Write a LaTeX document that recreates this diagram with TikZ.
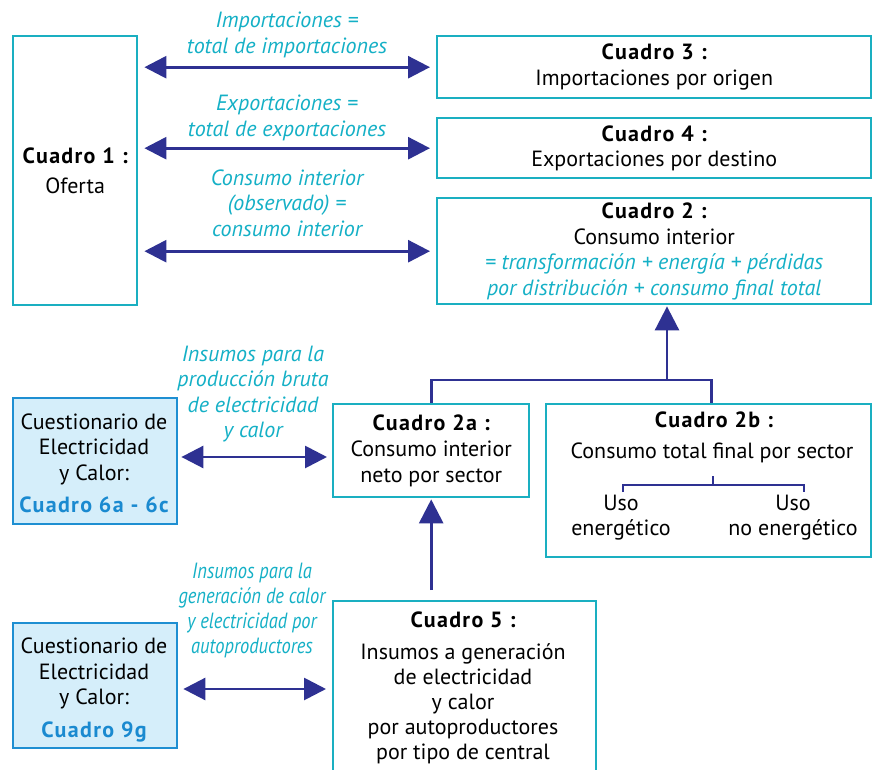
\documentclass[tikz,border=0pt]{standalone}
\usepackage{fontspec}
\setmainfont{PT Sans}
\newfontfamily\narrowfont[FakeStretch=0.84]{PT Sans}
\newfontfamily\titlefont[LetterSpace=6]{PT Sans}
\usetikzlibrary{arrows.meta}
\definecolor{boxc}{HTML}{1AAFC1}
\definecolor{arrc}{HTML}{2E3192}
\definecolor{labc}{HTML}{14B0C6}
\definecolor{qfill}{HTML}{D5EEFA}
\definecolor{qline}{HTML}{1E8FD2}
\definecolor{qtext}{HTML}{1A8AD0}
\newcommand{\ttlf}[1]{{\titlefont\bfseries #1}}
\tikzset{
  box/.style={draw=boxc, line width=2.4pt, fill=white, inner sep=0pt, align=center,
    font=\fontsize{22}{25.5}\selectfont},
  qbox/.style={draw=qline, line width=2.4pt, fill=qfill, inner sep=0pt},
  txt/.style={align=center, inner sep=0pt, font=\fontsize{22}{25}\selectfont},
  qtxt/.style={align=center, inner sep=0pt, font=\fontsize{22}{25.5}\selectfont},
  ttl/.style={align=center, inner sep=0pt, font=\fontsize{22}{25.5}\selectfont\titlefont\bfseries},
  lab/.style={text=labc, align=center, inner sep=0pt, font=\fontsize{22}{25.5}\selectfont\itshape},
  nlab/.style={text=labc, align=center, inner sep=0pt, font=\fontsize{22}{25}\selectfont\narrowfont\itshape},
  dbl/.style={draw=arrc, line width=2.8pt,
    {Triangle[length=22pt,width=22pt]}-{Triangle[length=22pt,width=22pt]}},
  uparr/.style={draw=arrc, line width=2.8pt, -{Triangle[length=24pt,width=24pt]}},
  tree/.style={draw=arrc, line width=2.8pt},
  smalltree/.style={draw=arrc, line width=2pt},
}
\begin{document}
\begin{tikzpicture}[x=1pt,y=-1pt]
\useasboundingbox[fill=white] (0,0) rectangle (873,770);
\begin{scope}
\clip (0,0) rectangle (873,770);
% top boxes
\node[box, anchor=north west, minimum width=124pt, minimum height=269pt] (c1) at (12,35)
  {\ttlf{Cuadro 1 :}\\[5pt]Oferta};
\node[box, anchor=north west, minimum width=434pt, minimum height=62pt] (c3) at (436,35)
  {\ttlf{Cuadro 3 :}\\Importaciones por origen};
\node[box, anchor=north west, minimum width=434pt, minimum height=60pt] (c4) at (436,117)
  {\ttlf{Cuadro 4 :}\\Exportaciones por destino};
\node[box, anchor=north west, minimum width=434pt, minimum height=106pt] (c2) at (436,197)
  {\ttlf{Cuadro 2 :}\\Consumo interior\\
   \textcolor{labc}{\itshape = transformación + energía + pérdidas}\\
   \textcolor{labc}{\itshape por distribución + consumo final total}};
% arrows top
\draw[dbl] ([xshift=6pt]c1.east |- c3.west) -- ([xshift=-6pt]c3.west);
\draw[dbl] ([xshift=6pt]c1.east |- c4.west) -- ([xshift=-6pt]c4.west);
\draw[dbl] ([xshift=6pt]c1.east |- c2.west) -- ([xshift=-6pt]c2.west);
\node[lab] (l1) at (287,35) {Importaciones =\\total de importaciones};
\node[lab] (l2) at (287,118) {Exportaciones =\\total de exportaciones};
\node[lab] (l3) at (287,203) {Consumo interior\\(observado) =\\consumo interior};
% middle
\node[box, anchor=north west, minimum width=196pt, minimum height=93pt] (c2a) at (332,403)
  {\ttlf{Cuadro 2a :}\\[1pt]Consumo interior\\neto por sector};
\node[box, anchor=north west, minimum width=325pt, minimum height=153pt] (c2b) at (545,403) {};
\node[ttl] (t2b) at (714,420) {Cuadro 2b :};
\node[txt] (s2b) at (712,453) {Consumo total final por sector};
\node[txt] (u1) at (621,518) {Uso\\energético};
\node[txt] (u2) at (793,518) {Uso\\no energético};
\coordinate (st) at (713,476);
\coordinate (sb) at (713,485);
\coordinate (tl) at (623,492);
\coordinate (tr) at (804,492);
\draw[smalltree] (st) -- (sb);
\draw[smalltree] (tl) -- (tl |- sb) -- (tr |- sb) -- (tr);
\coordinate (j) at (667,380);
\draw[tree] (c2a.north) |- (j) -| ([xshift=3pt]c2b.north);
\draw[uparr] (j) -- ([yshift=-1pt]c2.south -| j);
\node[qbox, anchor=north west, minimum width=164pt, minimum height=126pt] (q1) at (12,397) {};
\node[qtxt] (q1t) at (94,463.5)
  {Cuestionario de\\Electricidad\\y Calor:\\[7pt]\textcolor{qtext}{\titlefont\bfseries Cuadro 6a - 6c}};
\draw[dbl] ([xshift=3pt]q1.east |- 0,457) -- ([xshift=-5pt]c2a.west |- 0,457);
\node[lab] (l4) at (253,394) {Insumos para la\\producción bruta\\de electricidad\\y calor};
% bottom
\node[box, anchor=north west, minimum width=263pt, minimum height=220pt] (c5) at (332,600) {};
\node[ttl] (t5) at (463,620) {Cuadro 5 :};
\node[txt] (s5) at (463,704) {Insumos a generación\\de electricidad\\y calor\\por autoproductores\\por tipo de central};
\draw[uparr] ([yshift=10pt]c2a.south |- c5.north) -- ([yshift=-1pt]c2a.south);
\node[qbox, anchor=north west, minimum width=164pt, minimum height=125pt] (q2) at (12,622) {};
\node[qtxt] (q2t) at (94,690)
  {Cuestionario de\\Electricidad\\y Calor:\\[7pt]\textcolor{qtext}{\titlefont\bfseries Cuadro 9g}};
\draw[dbl] ([xshift=5pt]q2.east |- 0,689) -- ([xshift=-6pt]c5.west |- 0,689);
\node[nlab] (l5) at (252,610) {Insumos para la\\generación de calor\\y electricidad por\\autoproductores};
\end{scope}
\end{tikzpicture}
\end{document}
